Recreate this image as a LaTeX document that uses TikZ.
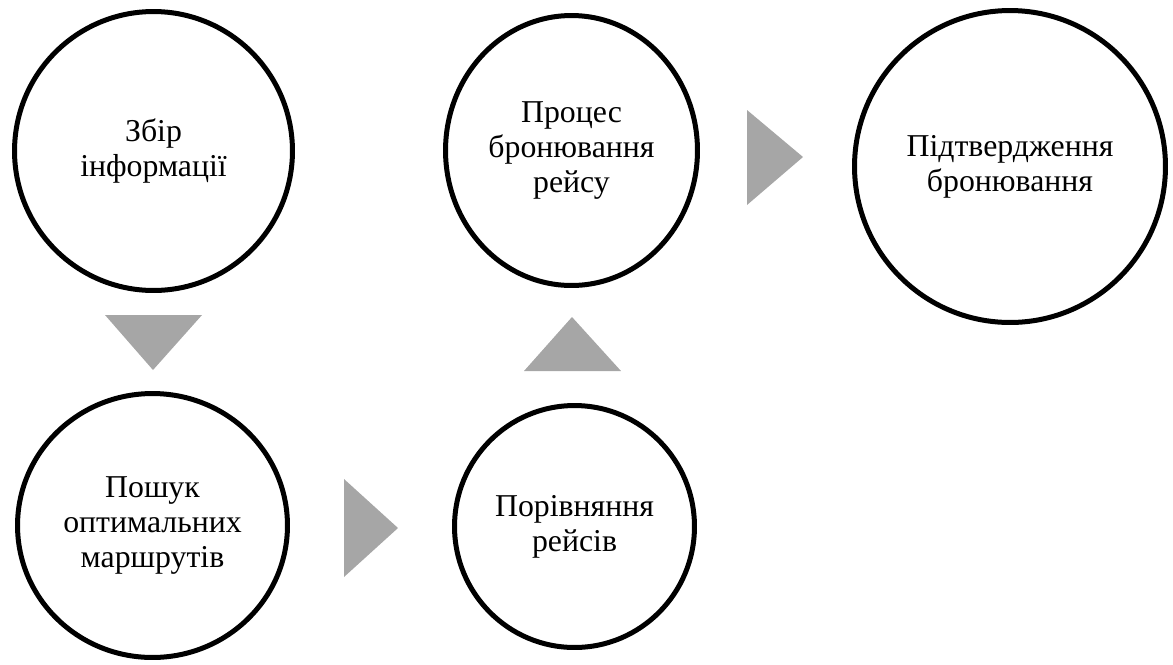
\documentclass[tikz,border=0pt]{standalone}
\usepackage{fontspec}
\setmainfont{Liberation Serif}
\usepackage{xcolor}
\usetikzlibrary{shapes.geometric}
\definecolor{arrowgray}{HTML}{A6A6A6}
\tikzset{stage/.style={draw, ellipse, line width=0.1cm, inner sep=0pt, align=center,
    font=\fontsize{18.1}{19.9}\selectfont}}

\begin{document}
\begin{tikzpicture}[x=0.02cm, y=-0.02cm]
    \useasboundingbox (0,0) rectangle (1173,664);

    \node[stage, minimum width=5.56cm, minimum height=5.58cm] at (153.5, 151) (collect) {Збір\\інформації};
    \node[stage, minimum width=5.40cm, minimum height=5.28cm] at (152.5, 525.5) (search) {Пошук\\оптимальних\\маршрутів};
    \node[stage, minimum width=4.80cm, minimum height=4.84cm] at (574.5, 526.5) (compare) {Порівняння\\рейсів};
    \node[stage, minimum width=5.04cm, minimum height=5.40cm] at (571.5, 150.5) (booking) {Процес\\бронювання\\рейсу};
    \node[stage, minimum width=6.22cm, minimum height=6.24cm] at (1010, 166.5) (confirm) {Підтвердження\\бронювання};

    \fill[arrowgray] (105, 315) -- (202, 315) -- (153, 370) -- cycle;
    \fill[arrowgray] (344, 479) -- (344, 577) -- (398, 528) -- cycle;
    \fill[arrowgray] (524, 371) -- (621, 371) -- (572, 317) -- cycle;
    \fill[arrowgray] (747, 110) -- (747, 205) -- (803, 157) -- cycle;
\end{tikzpicture}
\end{document}
